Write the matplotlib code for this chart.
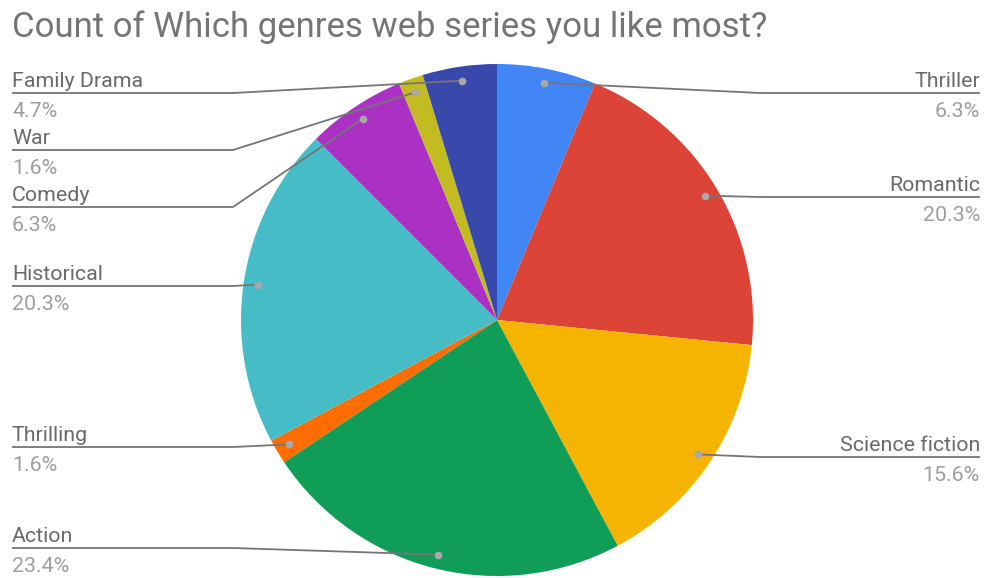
import matplotlib
matplotlib.use("Agg")
import matplotlib.pyplot as plt
import numpy as np
from decimal import Decimal, ROUND_HALF_UP

# Survey responses per genre (count of answers)
genres = ["Thriller", "Romantic", "Science fiction", "Action", "Thrilling",
          "Historical", "Comedy", "War", "Family Drama"]
counts = [4, 13, 10, 15, 1, 13, 4, 1, 3]
colors = ["#4285F4", "#DB4437", "#F4B400", "#0F9D58", "#FF6D01",
          "#46BDC6", "#AB30C4", "#C2BB22", "#3949AB"]

title = "Count of Which genres web series you like most?"

# Label layout (pixel rows of the leader baselines, side of the chart)
label_rows = {"Thriller": 93, "Romantic": 197, "Science fiction": 457,
              "Action": 548, "Thrilling": 447, "Historical": 286,
              "Comedy": 207, "War": 150, "Family Drama": 93}
label_side = {"Thriller": "R", "Romantic": "R", "Science fiction": "R",
              "Action": "L", "Thrilling": "L", "Historical": "L",
              "Comedy": "L", "War": "L", "Family Drama": "L"}

W, H = 987, 578
fig = plt.figure(figsize=(W / 100, H / 100), dpi=100)
fig.patch.set_facecolor("white")

font = "Roboto"
cx, cy, r = 497, 320, 256

# Pie axes: square box in pixels so the pie stays round
pie_ax = fig.add_axes([(cx - r) / W, (H - cy - r) / H, 2 * r / W, 2 * r / H])
wedges, _ = pie_ax.pie(counts, colors=colors, startangle=90, counterclock=False,
                       radius=1.0, wedgeprops=dict(linewidth=0))
pie_ax.set_xlim(-1, 1)
pie_ax.set_ylim(-1, 1)
pie_ax.set_aspect("equal")
pie_ax.axis("off")

# Overlay axes in pixel coordinates for labels and leaders
ov = fig.add_axes([0, 0, 1, 1], zorder=5)
ov.set_xlim(0, W)
ov.set_ylim(H, 0)
ov.axis("off")
ov.patch.set_alpha(0)

fig.canvas.draw()
to_ov = ov.transData.inverted()

total = sum(counts)
line_col = "#757575"
name_col = "#6A6A6A"
pct_col = "#9E9E9E"
fs = 15.4


def pct_text(c):
    v = Decimal(c * 100) / Decimal(total)
    return f"{v.quantize(Decimal('0.1'), rounding=ROUND_HALF_UP)}%"


for w, name, cnt in zip(wedges, genres, counts):
    mid = np.deg2rad((w.theta1 + w.theta2) / 2)
    px, py = to_ov.transform(pie_ax.transData.transform((0.945 * np.cos(mid),
                                                         0.945 * np.sin(mid))))
    L = label_rows[name]
    if label_side[name] == "L":
        xs = [12, 233, px]
        tx, ha = 12, "left"
    else:
        xs = [980, 760, px]
        tx, ha = 980, "right"
    ys = [L, L, py]
    ov.plot(xs, ys, color=line_col, lw=1.3, solid_capstyle="butt", zorder=6)
    ov.plot([px], [py], "o", ms=5.5, color="#A8A8A8", mec="none", zorder=7)
    ov.text(tx, L - 6, name, ha=ha, va="baseline", fontsize=fs,
            color=name_col, family=font)
    ov.text(tx, L + 24, pct_text(cnt), ha=ha, va="baseline", fontsize=fs,
            color=pct_col, family=font)

ov.text(12, 37, title, ha="left", va="baseline", fontsize=25,
        color="#757575", family=font)

fig.savefig("out.png", dpi=100, facecolor="white")
